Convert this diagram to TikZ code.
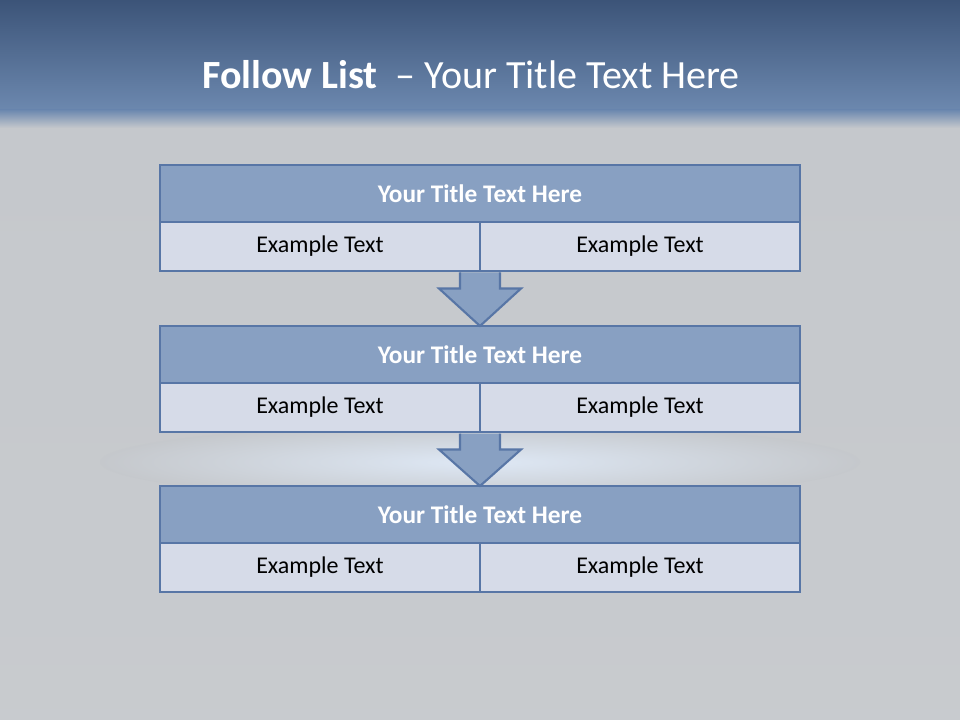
\documentclass[tikz,border=0pt]{standalone}
\usepackage{fontspec}
\setmainfont{Carlito}
\usetikzlibrary{calc}
\definecolor{hdr}{RGB}{136,160,194}
\definecolor{cell}{RGB}{214,219,232}
\definecolor{bord}{RGB}{88,118,166}
\definecolor{bgg}{RGB}{197,200,204}
\definecolor{topA}{RGB}{60,84,120}
\definecolor{topB}{RGB}{108,136,175}
\definecolor{glow}{RGB}{222,232,245}
\tikzset{
  hdrbox/.style={draw=bord, line width=2pt, fill=hdr, minimum width=480pt, minimum height=42.75pt, inner sep=0pt, outer sep=0pt, text=white, font=\fontsize{19}{22}\selectfont\bfseries},
  cellbox/.style={draw=bord, line width=2pt, fill=cell, minimum width=240pt, minimum height=36.75pt, inner sep=0pt, outer sep=0pt, text=black, font=\fontsize{18}{21}\selectfont},
  blockarrow/.style={draw=bord, line width=1.6pt, fill=hdr, line join=miter}
}
\begin{document}
\begin{tikzpicture}[x=0.75pt,y=-0.75pt]
\useasboundingbox (0,0) rectangle (960,720);
% background
\shade[top color=bgg, bottom color=bgg!95!white] (0,110) rectangle (960,720);
\shade[inner color=glow, outer color=bgg] (480,462) ellipse [x radius=380, y radius=38];
\shade[top color=topA, bottom color=topB] (0,0) rectangle (960,110);
\shade[top color=topB, bottom color=bgg] (0,110) rectangle (960,128);
% title
\node[text=white, font=\fontsize{30}{34}\selectfont, anchor=center] (title) at (471,75) {\textbf{Follow List}\ \ – Your Title Text Here};
% box 1
\node[hdrbox] (t1) at (480,193.5) {Your Title Text Here};
\node[cellbox, anchor=north east] (l1) at (t1.south) {Example Text};
\node[cellbox, anchor=north west] (r1) at (t1.south) {Example Text};
% box 2
\node[hdrbox] (t2) at (480,354.5) {Your Title Text Here};
\node[cellbox, anchor=north east] (l2) at (t2.south) {Example Text};
\node[cellbox, anchor=north west] (r2) at (t2.south) {Example Text};
% box 3
\node[hdrbox] (t3) at (480,514.5) {Your Title Text Here};
\node[cellbox, anchor=north east] (l3) at (t3.south) {Example Text};
\node[cellbox, anchor=north west] (r3) at (t3.south) {Example Text};
% arrows
\coordinate (a1) at ($(l1.south east)+(0,1.5)$);
\coordinate (e1) at (t2.north);
\draw[blockarrow] ($(a1)+(-20,0)$) -- ($(a1)+(-20,16)$) -- ($(a1)+(-41,16)$) -- (e1) -- ($(a1)+(41,16)$) -- ($(a1)+(20,16)$) -- ($(a1)+(20,0)$);
\coordinate (a2) at ($(l2.south east)+(0,1.5)$);
\coordinate (e2) at (t3.north);
\draw[blockarrow] ($(a2)+(-20,0)$) -- ($(a2)+(-20,16)$) -- ($(a2)+(-41,16)$) -- (e2) -- ($(a2)+(41,16)$) -- ($(a2)+(20,16)$) -- ($(a2)+(20,0)$);
\end{tikzpicture}
\end{document}
